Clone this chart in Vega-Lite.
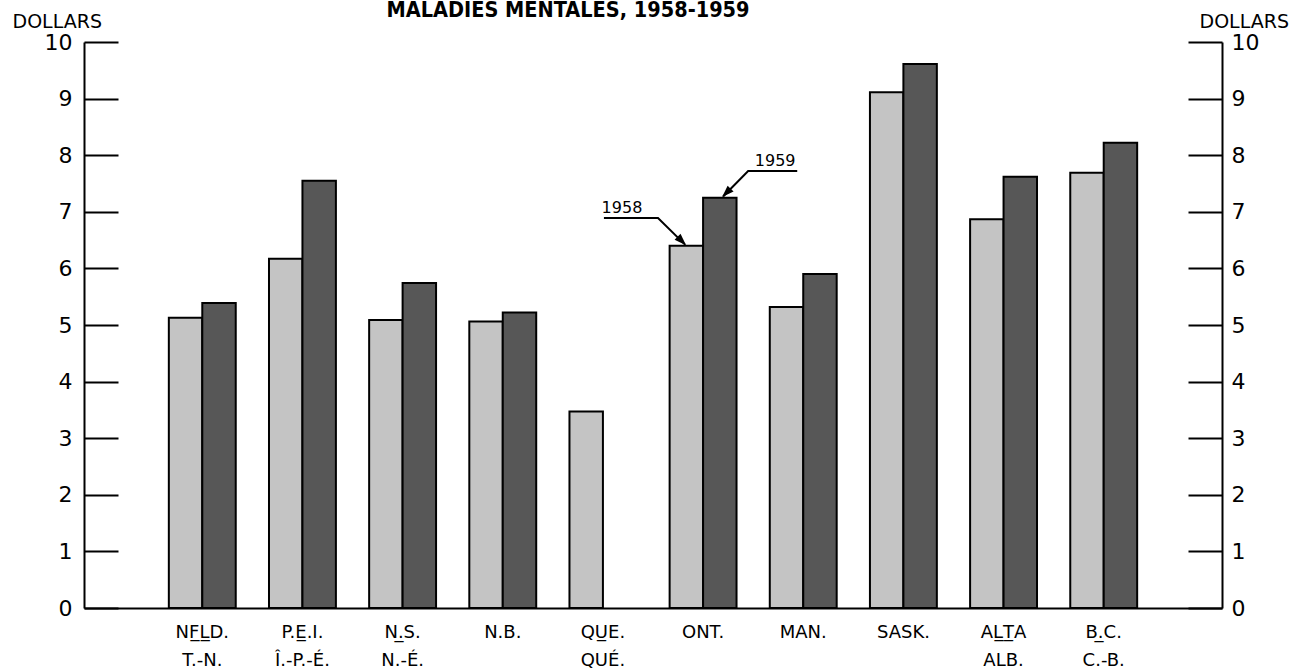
{
  "$schema": "https://vega.github.io/schema/vega-lite/v6.json",
  "width": 1138,
  "height": 566,
  "autosize": {"type": "none"},
  "padding": {"left": 84, "top": 42, "right": 85, "bottom": 62},
  "background": "white",
  "title": {
    "text": "MALADIES MENTALES, 1958-1959",
    "anchor": "middle",
    "frame": "group",
    "dx": -85,
    "dy": 26,
    "offset": 0,
    "baseline": "alphabetic",
    "font": "DejaVu Sans Condensed, DejaVu Sans",
    "fontSize": 21.5,
    "fontWeight": "bold",
    "color": "black"
  },
  "config": {
    "view": {"stroke": null},
    "font": "DejaVu Sans",
    "axis": {"grid": false, "domainColor": "black", "tickColor": "black", "labelColor": "black", "titleColor": "black"}
  },
  "layer": [
    {
      "data": {
        "values": [
          {"province": "NF\u0332L\u0332D.|T.-N.", "year": "1958", "dollars": 5.13},
          {"province": "NF\u0332L\u0332D.|T.-N.", "year": "1959", "dollars": 5.39},
          {"province": "P.E\u0332.I.|\u00ce.-P.-\u00c9.", "year": "1958", "dollars": 6.17},
          {"province": "P.E\u0332.I.|\u00ce.-P.-\u00c9.", "year": "1959", "dollars": 7.55},
          {"province": "N.\u0332S.|N.-\u00c9.", "year": "1958", "dollars": 5.09},
          {"province": "N.\u0332S.|N.-\u00c9.", "year": "1959", "dollars": 5.74},
          {"province": "N.B.", "year": "1958", "dollars": 5.06},
          {"province": "N.B.", "year": "1959", "dollars": 5.22},
          {"province": "QU\u0332E.|QU\u00c9.", "year": "1958", "dollars": 3.47},
          {"province": "ONT.", "year": "1958", "dollars": 6.4},
          {"province": "ONT.", "year": "1959", "dollars": 7.25},
          {"province": "MAN.", "year": "1958", "dollars": 5.32},
          {"province": "MAN.", "year": "1959", "dollars": 5.9},
          {"province": "SASK.", "year": "1958", "dollars": 9.11},
          {"province": "SASK.", "year": "1959", "dollars": 9.61},
          {"province": "AL\u0332T\u0332A|ALB.", "year": "1958", "dollars": 6.87},
          {"province": "AL\u0332T\u0332A|ALB.", "year": "1959", "dollars": 7.62},
          {"province": "B.\u0332C.|C.-B.", "year": "1958", "dollars": 7.69},
          {"province": "B.\u0332C.|C.-B.", "year": "1959", "dollars": 8.22}
        ]
      },
      "mark": {"type": "bar", "stroke": "black", "strokeWidth": 2},
      "encoding": {
        "x": {
          "field": "province", "type": "nominal", "sort": null,
          "scale": {"paddingInner": 0.332, "paddingOuter": 0.847},
          "axis": {
            "orient": "bottom", "title": null, "ticks": false, "domain": true, "domainWidth": 2,
            "labelAngle": 0, "labelExpr": "split(datum.label, '|')", "labelFontSize": 18,
            "labelLineHeight": 28, "labelPadding": 15, "labelBaseline": "top"
          }
        },
        "xOffset": {"field": "year", "type": "nominal", "scale": {"paddingInner": 0, "paddingOuter": 0}},
        "y": {
          "field": "dollars", "type": "quantitative",
          "scale": {"domain": [0, 10], "nice": false, "zero": true},
          "axis": {
            "orient": "left", "values": [0, 1, 2, 3, 4, 5, 6, 7, 8, 9, 10], "tickSize": -34, "tickWidth": 2,
            "domainWidth": 2, "labelFontSize": 22, "labelPadding": 46,
            "title": "DOLLARS", "titleAngle": 0, "titleAlign": "left", "titleBaseline": "alphabetic",
            "titleX": -72, "titleY": -15, "titleFontSize": 19, "titleFontWeight": "normal"
          }
        },
        "fill": {
          "field": "year", "type": "nominal",
          "scale": {"domain": ["1958", "1959"], "range": ["#c4c4c4", "#575757"]},
          "legend": null
        }
      }
    },
    {
      "data": {"values": [
        {"label": "1958", "i": 4.19, "v": 6.98},
        {"label": "1959", "i": 5.72, "v": 7.81}
      ]},
      "mark": {"type": "text", "fontSize": 16, "align": "center", "baseline": "alphabetic", "color": "black"},
      "encoding": {
        "x": {"field": "i", "type": "quantitative", "scale": {"domain": [-1.181, 10.181], "nice": false, "zero": false}, "axis": null},
        "y": {
          "field": "v", "type": "quantitative",
          "scale": {"domain": [0, 10], "nice": false, "zero": true},
          "axis": {
            "orient": "right", "values": [0, 1, 2, 3, 4, 5, 6, 7, 8, 9, 10], "tickSize": -34, "tickWidth": 2,
            "domainWidth": 2, "labelFontSize": 22, "labelPadding": 43,
            "title": "DOLLARS", "titleAngle": 0, "titleAlign": "left", "titleBaseline": "alphabetic",
            "titleX": -23, "titleY": -15, "titleFontSize": 19, "titleFontWeight": "normal"
          }
        },
        "text": {"field": "label"}
      }
    },
    {
      "data": {"values": [
        {"arrow": "1958", "step": 1, "i": 4.01, "v": 6.89},
        {"arrow": "1958", "step": 2, "i": 4.55, "v": 6.89},
        {"arrow": "1958", "step": 3, "i": 4.82, "v": 6.42},
        {"arrow": "1959", "step": 1, "i": 5.94, "v": 7.72},
        {"arrow": "1959", "step": 2, "i": 5.45, "v": 7.72},
        {"arrow": "1959", "step": 3, "i": 5.2, "v": 7.27}
      ]},
      "mark": {"type": "line", "color": "black", "strokeWidth": 2},
      "encoding": {
        "x": {"field": "i", "type": "quantitative", "scale": {"domain": [-1.181, 10.181], "nice": false, "zero": false}, "axis": null},
        "y": {"field": "v", "type": "quantitative", "scale": {"domain": [0, 10], "nice": false, "zero": true}, "axis": null},
        "detail": {"field": "arrow"},
        "order": {"field": "step"}
      }
    },
    {
      "data": {"values": [{"i": 4.83, "v": 6.41}]},
      "mark": {"type": "point", "shape": "M0,0L0.7,2L-0.7,2Z", "filled": true, "color": "black", "opacity": 1, "size": 144, "angle": 135},
      "encoding": {
        "x": {"field": "i", "type": "quantitative", "scale": {"domain": [-1.181, 10.181], "nice": false, "zero": false}, "axis": null},
        "y": {"field": "v", "type": "quantitative", "scale": {"domain": [0, 10], "nice": false, "zero": true}, "axis": null}
      }
    },
    {
      "data": {"values": [{"i": 5.19, "v": 7.26}]},
      "mark": {"type": "point", "shape": "M0,0L0.7,2L-0.7,2Z", "filled": true, "color": "black", "opacity": 1, "size": 144, "angle": 225},
      "encoding": {
        "x": {"field": "i", "type": "quantitative", "scale": {"domain": [-1.181, 10.181], "nice": false, "zero": false}, "axis": null},
        "y": {"field": "v", "type": "quantitative", "scale": {"domain": [0, 10], "nice": false, "zero": true}, "axis": null}
      }
    }
  ],
  "resolve": {"scale": {"x": "independent"}, "axis": {"x": "independent", "y": "independent"}}
}
